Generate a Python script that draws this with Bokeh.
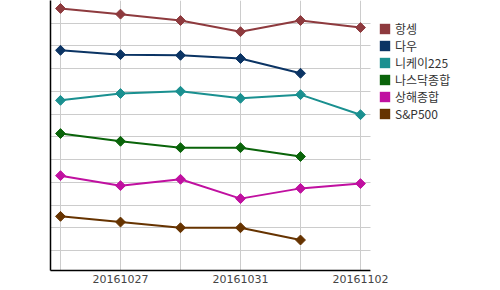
from bokeh.plotting import figure
from bokeh.models import Range1d, FixedTicker, Legend, LegendItem, BoxAnnotation
from bokeh.embed import file_html
from bokeh.resources import INLINE
import math

dates = ["20161026", "20161027", "20161028", "20161031", "20161101", "20161102"]
label_positions = [1, 3, 5]

series_names = ["항셍", "다우", "니케이225", "나스닥종합", "상해종합", "S&P500"]
hangseng = [11.65, 11.40, 11.12, 10.63, 11.12, 10.81]
dow = [9.81, 9.62, 9.59, 9.45, 8.80]
nikkei = [7.61, 7.91, 8.01, 7.70, 7.86, 6.98]
nasdaq = [6.15, 5.81, 5.53, 5.53, 5.14]
shanghai = [4.30, 3.86, 4.14, 3.29, 3.74, 3.95]
sp500 = [2.51, 2.26, 2.01, 2.01, 1.47]
colors = ["#8e3a3e", "#0b3464", "#1a9090", "#0a640a", "#c010a0", "#663300"]

all_series = [hangseng, dow, nikkei, nasdaq, shanghai, sp500]

# plot area spans 50..500 px; data area ends at x = 5 + 1/6 (370 px)
x_lo, x_data_hi = -1 / 6, 5 + 1 / 6
x_hi = 450 / 60 - 1 / 6

p = figure(width=500, height=290, output_backend="svg", toolbar_location=None,
           x_range=Range1d(x_lo, x_hi), y_range=Range1d(0.13, 12.0),
           min_border_left=50, min_border_right=0, min_border_top=0,
           min_border_bottom=20)
p.outline_line_color = None
p.background_fill_color = "white"

items = []
for name, vals, col in zip(series_names, all_series, colors):
    xs = list(range(len(vals)))
    p.line(xs, vals, line_color=col, line_width=2)
    p.scatter(xs, vals, marker="square", angle=math.pi / 4, size=7,
              fill_color=col, line_color=col)
    # zero-size rects: invisible on the chart, give a filled square in the legend
    key = p.rect(xs, vals, width=0, height=0, fill_color=col, line_color=None)
    items.append(LegendItem(label=name, renderers=[key]))

p.xaxis.ticker = FixedTicker(ticks=label_positions)
p.xaxis.major_label_overrides = {i: dates[i] for i in label_positions}
p.xaxis.bounds = (x_lo, x_data_hi)
p.xgrid.ticker = FixedTicker(ticks=list(range(len(dates))))
p.xaxis.major_tick_line_color = None
p.xaxis.minor_tick_line_color = None
p.xaxis.axis_line_color = "black"
p.xaxis.axis_line_width = 1.5
p.xaxis.major_label_text_font = "DejaVu Sans"
p.xaxis.major_label_text_font_size = "11px"
p.xaxis.major_label_text_color = "#444444"
p.xaxis.major_label_standoff = -2

p.yaxis.ticker = FixedTicker(ticks=[])
p.ygrid.ticker = FixedTicker(ticks=list(range(1, 13)))
p.yaxis.major_tick_line_color = None
p.yaxis.minor_tick_line_color = None
p.yaxis.axis_line_color = "black"
p.yaxis.axis_line_width = 1.5

p.xgrid.grid_line_color = "#cccccc"
p.ygrid.grid_line_color = "#cccccc"

# blank out the grid to the right of the data area
p.add_layout(BoxAnnotation(left=x_data_hi, fill_color="white", fill_alpha=1,
                           line_color=None))

legend = Legend(items=items, location=(328, 148), orientation="vertical",
                glyph_width=13, glyph_height=13, label_height=13,
                spacing=-2, padding=0, margin=0,
                label_text_font="Noto Sans CJK KR", label_text_font_size="12px",
                label_text_color="#333333", border_line_color=None,
                background_fill_alpha=0, label_standoff=4)
p.add_layout(legend, "center")

open("out.html", "w").write(file_html(p, INLINE))
